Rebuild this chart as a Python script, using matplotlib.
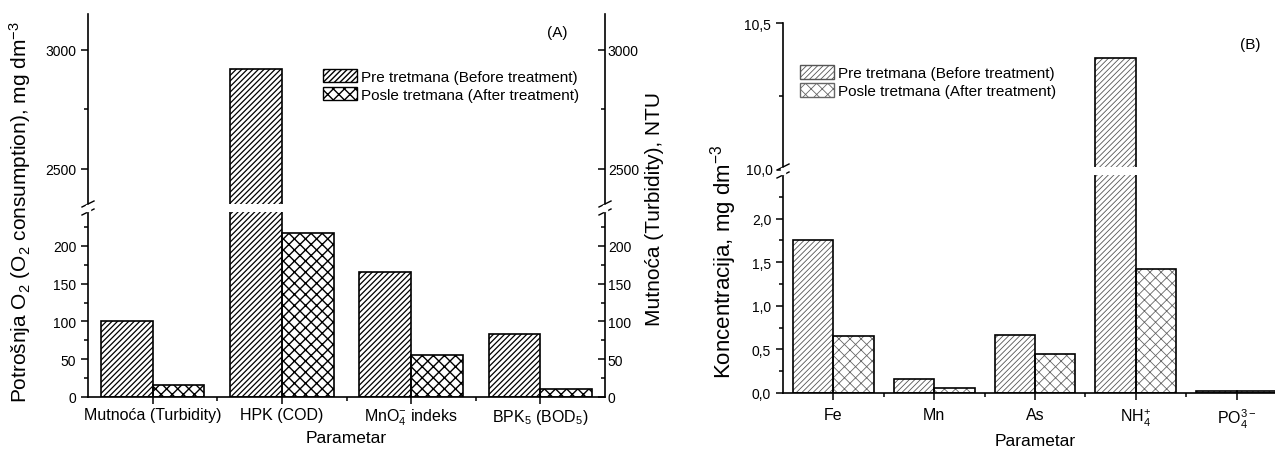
import numpy as np
import matplotlib
matplotlib.use("Agg")
import matplotlib.pyplot as plt
from matplotlib.patches import Patch

plt.rcParams["font.family"] = ["Liberation Sans", "DejaVu Sans"]
plt.rcParams["mathtext.fontset"] = "custom"
plt.rcParams["mathtext.rm"] = "Liberation Sans"
plt.rcParams["mathtext.it"] = "Liberation Sans"
plt.rcParams["mathtext.default"] = "regular"

# Panel A data
params_a = ["Mutnoća (Turbidity)", "HPK (COD)", "MnO$_4^{-}$ indeks", "BPK$_5$ (BOD$_5$)"]
before_a = [100, 2920, 165, 84]
after_a = [16, 217, 55, 11]

# Panel B data
params_b = ["Fe", "Mn", "As", "NH$_4^{+}$", "PO$_4^{3-}$"]
before_b = [1.76, 0.16, 0.66, 10.38, 0.025]
after_b = [0.65, 0.06, 0.45, 1.42, 0.025]

label_pre = "Pre tretmana (Before treatment)"
label_post = "Posle tretmana (After treatment)"

W, H = 1275, 452
fig = plt.figure(figsize=(W / 100, H / 100), dpi=100)

YTICK_FS = 10
XTICK_FS = 11.5
XLAB_FS = 12.5
LEG_FS = 11


def fbox(x0, y0, x1, y1):
    # pixel box (top-left origin) -> figure fraction rect
    return [x0 / W, (H - y1) / H, (x1 - x0) / W, (y1 - y0) / H]


def draw_bars(ax, x, vals, offset, hatch, hcolor, hlw):
    plt.rcParams["hatch.linewidth"] = hlw
    ax.bar(x + offset, vals, width=0.4, color="white", edgecolor=hcolor,
           hatch=hatch, linewidth=0, zorder=2)
    ax.bar(x + offset, vals, width=0.4, color="none", edgecolor="black",
           linewidth=1.2, zorder=3)


def break_marks(fig, xpix, y0pix, y1pix):
    for yp in (y0pix, y1pix):
        fig.add_artist(plt.Line2D([(xpix - 6) / W, (xpix + 6) / W],
                                  [(H - yp - 3) / H, (H - yp + 3) / H],
                                  color="black", lw=1.0))
    fig.add_artist(plt.Rectangle(((xpix - 2) / W, (H - y1pix + 1) / H),
                                 4 / W, (y1pix - y0pix - 2) / H,
                                 color="white", zorder=5))


def style_axis(ax, top_part):
    ax.spines["top"].set_visible(False)
    ax.spines["right"].set_visible(False)
    for s in ax.spines.values():
        s.set_linewidth(1.2)
    ax.tick_params(axis="y", which="major", direction="out", length=5, width=1.1, labelsize=YTICK_FS)
    ax.tick_params(axis="y", which="minor", direction="out", length=3, width=1.1)
    if top_part:
        ax.spines["bottom"].set_visible(False)
        ax.tick_params(axis="x", bottom=False, labelbottom=False)
    else:
        ax.tick_params(axis="x", which="major", direction="out", length=5, width=1.1,
                       labelsize=XTICK_FS, pad=2)
        ax.tick_params(axis="x", which="minor", direction="out", length=3, width=1.1)


# ---------------- Panel A ----------------
xa = np.arange(1, len(params_a) + 1)
axA_lo = fig.add_axes(fbox(88, 213, 605, 398))
axA_hi = fig.add_axes(fbox(88, 15, 605, 205))

for ax in (axA_lo, axA_hi):
    draw_bars(ax, xa, before_a, -0.2, "//////", "black", 0.9)
    draw_bars(ax, xa, after_a, 0.2, "xxx", "black", 1.0)
    ax.set_xlim(0.5, len(params_a) + 0.5)

axA_lo.set_ylim(0, 245)
axA_hi.set_ylim(2352, 3150)
axA_lo.set_yticks([0, 50, 100, 150, 200])
axA_lo.set_yticks([25, 75, 125, 175, 225], minor=True)
axA_hi.set_yticks([2500, 3000])
axA_hi.set_yticks([2750], minor=True)
axA_lo.set_xticks(xa)
axA_lo.set_xticks(xa[:-1] + 0.5, minor=True)
axA_lo.set_xticklabels(params_a)
style_axis(axA_lo, False)
style_axis(axA_hi, True)
axA_lo.spines["right"].set_visible(True)
axA_hi.spines["right"].set_visible(True)

for ax in (axA_lo, axA_hi):
    tw = ax.twinx()
    tw.set_ylim(ax.get_ylim())
    tw.set_yticks(ax.get_yticks())
    tw.set_yticks(ax.get_yticks(minor=True), minor=True)
    for s in tw.spines.values():
        s.set_visible(False)
    tw.tick_params(axis="y", which="major", direction="in", length=5, width=1.1,
                   labelsize=YTICK_FS, pad=2)
    tw.tick_params(axis="y", which="minor", direction="in", length=3, width=1.1)

axA_lo.set_xlabel("Parametar", fontsize=XLAB_FS, labelpad=2)
fig.text(20 / W, (H - 212) / H,
         "Potrošnja O$_2$ (O$_2$ consumption), mg dm$^{-3}$",
         rotation=90, ha="center", va="center", fontsize=15)
fig.text(654 / W, (H - 209) / H, "Mutnoća (Turbidity), NTU",
         rotation=90, ha="center", va="center", fontsize=15)
fig.text(557 / W, (H - 33) / H, "(A)", ha="center", va="center", fontsize=11)
axA_hi.legend(handles=[Patch(facecolor="white", edgecolor="black", hatch="//////", label=label_pre),
                       Patch(facecolor="white", edgecolor="black", hatch="xxx", label=label_post)],
              loc="upper left", bbox_to_anchor=((322 - 88) / 517 - 0.01, 0.745), frameon=False,
              fontsize=LEG_FS, handlelength=2.2, handleheight=1.0, handletextpad=0.3,
              labelspacing=0.2, borderaxespad=0)

break_marks(fig, 88, 205, 213)
break_marks(fig, 605, 205, 213)

# ---------------- Panel B ----------------
xb = np.arange(1, len(params_b) + 1)
axB_lo = fig.add_axes(fbox(783, 176, 1287, 394))
axB_hi = fig.add_axes(fbox(783, 24, 1287, 168))

for ax in (axB_lo, axB_hi):
    draw_bars(ax, xb, before_b, -0.2, "//////", "#555555", 0.6)
    draw_bars(ax, xb, after_b, 0.2, "xxx", "#666666", 0.6)
    ax.set_xlim(0.5, len(params_b) + 0.5)

axB_lo.set_ylim(0, 2.5)
axB_hi.set_ylim(10.01, 10.5)
axB_lo.set_yticks([0, 0.5, 1.0, 1.5, 2.0])
axB_lo.set_yticks([0.25, 0.75, 1.25, 1.75, 2.25], minor=True)
axB_hi.set_yticks([10.5])
axB_hi.set_yticks([10.25], minor=True)
axB_lo.set_yticklabels(["0,0", "0,5", "1,0", "1,5", "2,0"])
axB_hi.set_yticklabels(["10,5"])
axB_lo.set_xticks(xb)
axB_lo.set_xticks(xb[:-1] + 0.5, minor=True)
axB_lo.set_xticklabels(params_b)
style_axis(axB_lo, False)
style_axis(axB_hi, True)
axB_lo.tick_params(axis="x", which="major", pad=5)
axB_lo.set_xlabel("Parametar", fontsize=XLAB_FS, labelpad=2)
fig.text(724 / W, (H - 262) / H, "Koncentracija, mg dm$^{-3}$",
         rotation=90, ha="center", va="center", fontsize=16)
fig.text(759 / W, (H - 171) / H, "10,0", ha="center", va="center", fontsize=YTICK_FS)
fig.add_artist(plt.Line2D([778 / W, 783 / W], [(H - 171) / H] * 2, color="black", lw=1.1))
fig.text(1250 / W, (H - 45) / H, "(B)", ha="center", va="center", fontsize=11)
axB_hi.legend(handles=[Patch(facecolor="white", edgecolor="#555555", hatch="//////", label=label_pre),
                       Patch(facecolor="white", edgecolor="#666666", hatch="xxx", label=label_post)],
              loc="upper left", bbox_to_anchor=((799 - 783) / 504 - 0.01, 0.75), frameon=False,
              fontsize=LEG_FS, handlelength=2.2, handleheight=1.0, handletextpad=0.3,
              labelspacing=0.2, borderaxespad=0)

break_marks(fig, 783, 168, 176)

fig.savefig("out.png", dpi=100)
